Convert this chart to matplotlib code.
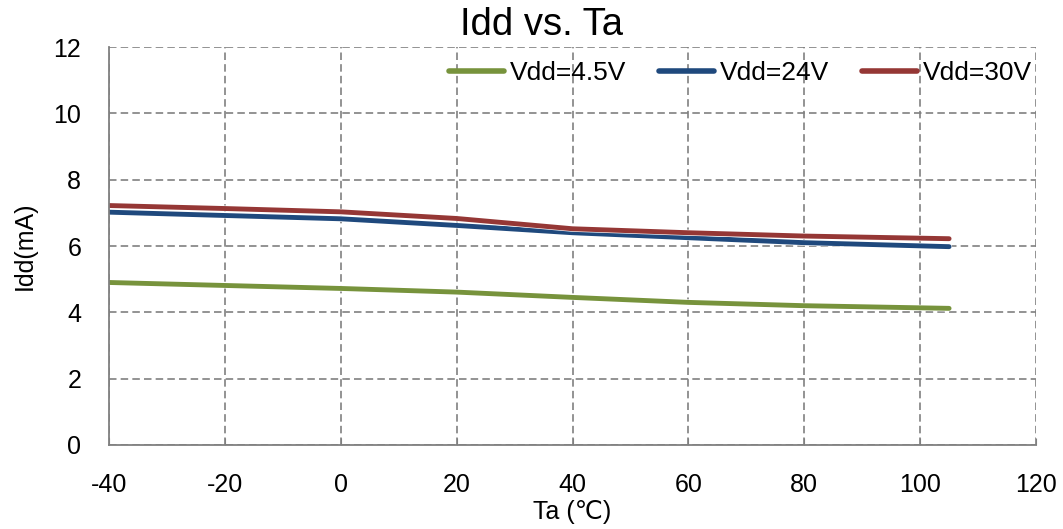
import matplotlib
matplotlib.use("Agg")
import matplotlib.pyplot as plt
import matplotlib.patheffects as pe

plt.rcParams['font.family'] = ['Liberation Sans', 'DejaVu Sans']
plt.rcParams['axes.unicode_minus'] = False

# Supply current vs ambient temperature
ta = [-40, -20, 0, 20, 40, 60, 80, 105]
idd_4v5 = [4.90, 4.81, 4.72, 4.61, 4.45, 4.30, 4.20, 4.12]
idd_24v = [7.02, 6.92, 6.82, 6.62, 6.40, 6.25, 6.10, 5.98]
idd_30v = [7.22, 7.13, 7.03, 6.83, 6.52, 6.40, 6.30, 6.22]

series = [
    ('Vdd=4.5V', idd_4v5, '#77933C'),
    ('Vdd=24V', idd_24v, '#1F497D'),
    ('Vdd=30V', idd_30v, '#953735'),
]

W, H = 1063, 529
fig = plt.figure(figsize=(W / 100, H / 100), dpi=100)
ax = fig.add_axes([109 / W, 1 - 445 / H, 927 / W, 398 / H])

for label, vals, color in series:
    ax.plot(ta, vals, color=color, lw=3.5, label=label, solid_capstyle='round',
            path_effects=[pe.Stroke(linewidth=4.4, foreground='white'), pe.Normal()])

ax.set_xlim(-40, 120)
ax.set_ylim(0, 12)
ax.set_xticks(range(-40, 121, 20))
ax.set_yticks(range(0, 13, 2))
ax.grid(True, color='#808080', ls=(0, (4.5, 2.5)), lw=1.2)
ax.set_axisbelow(True)

for s in ('top', 'right'):
    ax.spines[s].set_visible(False)
for s in ('left', 'bottom'):
    ax.spines[s].set_color('#808080')
    ax.spines[s].set_linewidth(1.3)

ax.tick_params(axis='x', direction='in', length=5, color='#808080', labelsize=18, pad=20)
ax.tick_params(axis='y', length=0, labelsize=18, pad=20)

fig.text(541 / W, 1 - 25 / H, 'Idd vs. Ta', fontsize=27.5, ha='center', va='center')
fig.text(572 / W, 1 - 512 / H, 'Ta (℃)', fontsize=18, ha='center', va='center')
fig.text(25 / W, 1 - 246 / H, 'Idd(mA)', fontsize=18, ha='center', va='center',
         rotation=90)

leg = fig.legend(loc='center left', ncol=3, frameon=False, fontsize=19,
                 handlelength=2.1, handletextpad=0.2, columnspacing=1.25,
                 bbox_to_anchor=(449 / W, 1 - 73 / H), borderaxespad=0,
                 borderpad=0)
for h in leg.get_lines():
    h.set_path_effects([])
    h.set_linewidth(4)

fig.savefig('out.png', dpi=100)
